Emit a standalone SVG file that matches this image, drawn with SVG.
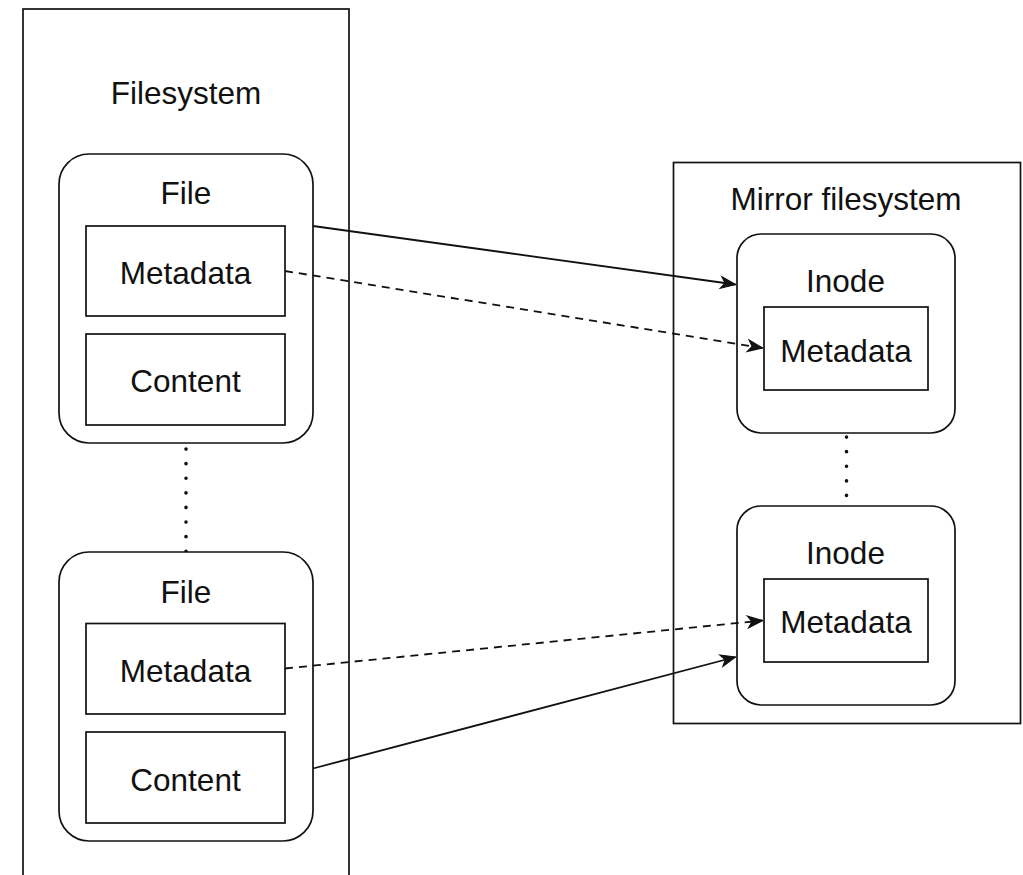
<svg xmlns="http://www.w3.org/2000/svg" width="1023" height="875" viewBox="0 0 1023 875">
  <style>
    .box { fill: #fff; stroke: #111; stroke-width: 1.7; }
    .label { font-family: "Liberation Sans", Arial, Helvetica, sans-serif; font-size: 31.5px; fill: #111; text-anchor: middle; }
    .link { fill: none; stroke: #111; stroke-width: 1.8; }
    .dashed { stroke-dasharray: 8 6; }
    .dotted { fill: none; stroke: #111; stroke-width: 3.6; stroke-linecap: round; stroke-dasharray: 0.1 14.5; }
  </style>
  <defs>
    <marker id="arrow" markerUnits="userSpaceOnUse" viewBox="-17 -8 18 16" refX="0" refY="0" markerWidth="18" markerHeight="16" orient="auto">
      <path d="M0,0 L-14.5,-5.8 L-10.5,0 L-14.5,5.8 Z" fill="#111" stroke="#111" stroke-width="1.2" stroke-linejoin="miter"/>
    </marker>
  </defs>

  <rect width="1023" height="875" fill="#fff"/>

  <!-- Filesystem container -->
  <g id="filesystem">
    <rect class="box" x="23" y="9" width="326" height="900"/>
    <text class="label" x="186" y="104">Filesystem</text>
  </g>

  <!-- Mirror filesystem container -->
  <g id="mirror-filesystem">
    <rect class="box" x="673.5" y="162.5" width="347" height="561"/>
    <text class="label" x="846" y="210">Mirror filesystem</text>
  </g>

  <!-- Spacers between repeated items -->
  <g id="ellipsis-lines">
    <line class="dotted" x1="186" y1="449" x2="186" y2="552"/>
    <line class="dotted" x1="846.5" y1="437" x2="846.5" y2="506"/>
  </g>

  <!-- First file -->
  <g id="file-1">
    <rect class="box" x="59" y="154" width="254" height="289" rx="30" ry="30"/>
    <text class="label" x="186" y="204">File</text>
  </g>
  <g id="file-1-metadata">
    <rect class="box" x="86" y="226" width="199" height="90"/>
    <text class="label" x="185.5" y="284">Metadata</text>
  </g>
  <g id="file-1-content">
    <rect class="box" x="86" y="334" width="199" height="91"/>
    <text class="label" x="185.5" y="392">Content</text>
  </g>

  <!-- Second file -->
  <g id="file-2">
    <rect class="box" x="59" y="552" width="254" height="289" rx="30" ry="30"/>
    <text class="label" x="186" y="602.5">File</text>
  </g>
  <g id="file-2-metadata">
    <rect class="box" x="86" y="623.5" width="199" height="90.5"/>
    <text class="label" x="185.5" y="682">Metadata</text>
  </g>
  <g id="file-2-content">
    <rect class="box" x="86" y="732" width="199" height="91"/>
    <text class="label" x="185.5" y="790.5">Content</text>
  </g>

  <!-- First inode -->
  <g id="inode-1">
    <rect class="box" x="737" y="234" width="218" height="199" rx="24" ry="24"/>
    <text class="label" x="845.5" y="292">Inode</text>
  </g>
  <g id="inode-1-metadata">
    <rect class="box" x="764" y="307" width="164" height="83"/>
    <text class="label" x="846" y="362">Metadata</text>
  </g>

  <!-- Second inode -->
  <g id="inode-2">
    <rect class="box" x="737" y="506" width="218" height="199" rx="24" ry="24"/>
    <text class="label" x="845.5" y="564">Inode</text>
  </g>
  <g id="inode-2-metadata">
    <rect class="box" x="764" y="579" width="164" height="83"/>
    <text class="label" x="846" y="633">Metadata</text>
  </g>

  <!-- Connectors -->
  <g id="connectors">
    <line class="link" x1="313" y1="226" x2="735.5" y2="284.5" marker-end="url(#arrow)"/>
    <line class="link dashed" x1="285" y1="271" x2="762.5" y2="348" marker-end="url(#arrow)"/>
    <line class="link dashed" x1="285" y1="668.5" x2="762.5" y2="620.5" marker-end="url(#arrow)"/>
    <line class="link" x1="313" y1="768.5" x2="735.5" y2="657" marker-end="url(#arrow)"/>
  </g>
</svg>
